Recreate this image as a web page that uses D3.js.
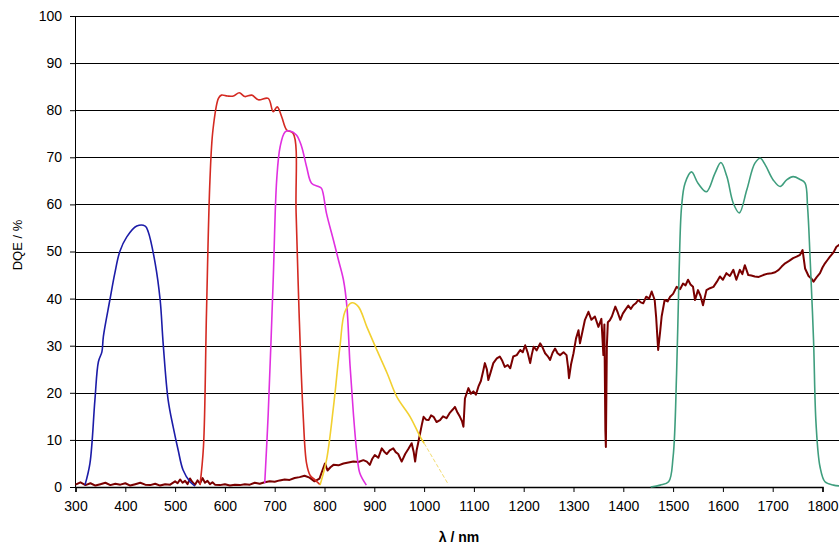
<!DOCTYPE html>
<html>
<head>
<meta charset="utf-8">
<script src="https://cdn.jsdelivr.net/npm/d3@7"></script>
<style>
  body { margin: 0; background: #fff; }
  svg { display: block; font-family: "Liberation Sans", Arial, sans-serif; }
</style>
</head>
<body>
<svg id="chart" width="839" height="544"></svg>
<script>
// tick labels
const xTicks = [300, 400, 500, 600, 700, 800, 900, 1000, 1100, 1200, 1300, 1400, 1500, 1600, 1700, 1800];
const yTicks = [0, 10, 20, 30, 40, 50, 60, 70, 80, 90, 100];

// blue filter curve
const blueX = [319, 329, 339, 346, 353, 356, 369, 379, 389, 403, 423, 440, 446, 460, 470, 476, 486, 496, 506, 516, 530, 540];
const blueY = [0.4, 5, 18.5, 26.6, 28.7, 32, 39.7, 45.4, 50, 53.1, 55.4, 55.4, 54.2, 47.5, 39.7, 30.5, 18.5, 12.8, 7.9, 3.6, 1.1, 0.2];

// red filter curve
const redX = [550, 557, 563, 570, 576, 587, 593, 605, 617, 629, 640, 654, 667, 687, 697, 705, 714, 724, 737, 743, 749, 757, 764, 771, 781, 791];
const redY = [0.4, 8.6, 36.9, 65.2, 75.8, 82.5, 83.2, 83.0, 83, 83.7, 82.9, 83.2, 82.2, 82.5, 79.7, 80.7, 78.6, 75.8, 75.1, 58.2, 36.9, 15.6, 5, 2.5, 1.5, 0.5];

// magenta filter curve
const magX = [680, 687, 697, 704, 711, 721, 731, 744, 754, 764, 774, 788, 794, 804, 818, 828, 838, 845, 851, 858, 865, 871, 884];
const magY = [0.8, 15.6, 44, 65.2, 72.3, 75.4, 75.6, 74.7, 72.3, 68, 64.5, 63.8, 63.4, 58.1, 52.4, 48.2, 44, 38.3, 26.3, 15.6, 7.2, 2.9, 0.4];

// yellow filter curve (solid part + dashed extrapolation)
const yelX = [791, 804, 818, 831, 841, 855, 868, 885, 905, 926, 945, 972, 992, 1000];
const yelY = [0.4, 5.7, 17, 29.8, 37.2, 39.1, 38.3, 34, 29.1, 24.1, 19.2, 14.9, 10.7, 9.3];
const yelDashX = [1000, 1025, 1049];
const yelDashY = [9.3, 4.8, 0.5];

// green filter curve
const greenX = [1455, 1474, 1491, 1500, 1507, 1512, 1517, 1524, 1537, 1550, 1567, 1584, 1596, 1608, 1621, 1633, 1648, 1664, 1675, 1685, 1701, 1715, 1728, 1741, 1755, 1765, 1770, 1775, 1782, 1787, 1795, 1805, 1822, 1840];
const greenY = [0, 0.4, 1.1, 6.4, 24.1, 45.4, 59.5, 64.5, 66.9, 64.5, 62.7, 66.6, 68.9, 65.9, 60.2, 58.2, 63.1, 68.7, 69.8, 68.4, 65.2, 63.8, 65.2, 65.9, 65.3, 64.5, 59.5, 48.9, 31.2, 13.5, 4.3, 1.1, 0.4, 0.2];

// detector DQE (dark red, measured)
const detX = [300, 310, 320, 330, 340, 350, 360, 370, 380, 390, 400, 410, 420, 430, 440, 450, 460, 470, 480, 490,
  500, 505, 510, 515, 520, 525, 530, 535, 540, 545, 550, 555, 560, 565, 570, 575, 580, 590, 600, 610,
  620, 630, 640, 650, 660, 670, 680, 690, 700, 710, 720, 730, 740, 750, 760, 770, 780, 790,
  801, 806, 812, 818, 828, 838, 848, 858, 868, 878, 885, 891, 896, 901, 908, 915, 920, 925, 931, 938,
  943, 948, 955, 962, 968, 975, 979, 982, 985, 988, 992, 996, 999, 1004, 1009, 1014, 1019, 1025, 1032, 1038,
  1045, 1052, 1058, 1062, 1067, 1072, 1076, 1079, 1082, 1089, 1094, 1099, 1104, 1109, 1114, 1119, 1122, 1126, 1129, 1134,
  1139, 1146, 1152, 1157, 1162, 1168, 1173, 1179, 1186, 1193, 1198, 1203, 1208, 1213, 1216, 1220, 1226, 1233, 1238, 1243,
  1248, 1253, 1258, 1263, 1268, 1273, 1280, 1286, 1289, 1291, 1295, 1300, 1305, 1310, 1313, 1318, 1323, 1330, 1336, 1343,
  1350, 1356, 1360, 1362, 1364, 1365, 1367, 1369, 1373, 1377, 1384, 1389, 1394, 1399, 1404, 1410, 1415, 1420, 1425, 1430,
  1435, 1440, 1446, 1452, 1457, 1463, 1466, 1470, 1474, 1477, 1483, 1489, 1494, 1500, 1507, 1514, 1520, 1525, 1530, 1535,
  1540, 1544, 1550, 1555, 1560, 1567, 1574, 1581, 1588, 1594, 1600, 1607, 1614, 1621, 1627, 1634, 1639, 1644, 1651, 1657,
  1664, 1672, 1681, 1690, 1698, 1705, 1712, 1718, 1725, 1733, 1741, 1748, 1755, 1760, 1765, 1772, 1778, 1782, 1788, 1795,
  1800, 1805, 1810, 1815, 1822, 1828, 1835];
const detY = [0.5, 1.0, 0.4, 0.8, 0.3, 0.6, 0.9, 0.4, 0.7, 0.5, 0.8, 0.3, 0.6, 0.9, 0.5, 0.4, 0.7, 0.3, 0.6, 0.5,
  1.2, 0.8, 1.6, 0.9, 1.3, 0.6, 1.8, 1.0, 0.5, 1.4, 0.7, 1.9, 0.9, 1.3, 0.6, 1.0, 0.5, 0.4, 0.6, 0.3,
  0.5, 0.4, 0.6, 0.5, 0.9, 0.7, 1.0, 1.2, 1.1, 1.4, 1.6, 1.5, 1.9, 2.1, 2.4, 2.0, 1.2, 1.8,
  5.0, 3.5, 4.2, 4.7, 4.6, 5.0, 5.2, 5.4, 5.3, 5.7, 5.4, 4.7, 6.0, 6.8, 6.2, 8.2, 7.5, 7.0, 7.8, 8.2,
  7.4, 7.0, 5.4, 7.0, 8.0, 9.3, 7.5, 5.4, 7.8, 9.3, 11.4, 13.5, 14.9, 14.3, 14.2, 15.2, 14.9, 13.8, 14.2, 15.0,
  14.6, 15.8, 16.5, 17.0, 15.8, 14.9, 14.0, 12.8, 18.8, 21.0, 19.8, 20.3, 19.6, 21.3, 22.5, 24.8, 26.3, 25.0, 22.7, 24.5,
  26.3, 27.3, 27.7, 26.8, 25.5, 25.9, 25.2, 27.7, 28.0, 29.1, 28.6, 30.1, 28.5, 26.3, 28.0, 29.8, 29.0, 30.5, 29.6, 28.4,
  27.8, 27.0, 28.5, 29.4, 28.4, 28.0, 28.6, 28.0, 25.5, 23.1, 26.0, 28.4, 31.5, 33.3, 30.5, 33.0, 35.5, 37.2, 35.5, 36.2,
  34.0, 35.7, 28.0, 34.5, 12.0, 8.5, 30.0, 35.0, 35.4, 36.2, 38.3, 37.0, 35.5, 36.8, 37.6, 38.5, 37.8, 38.6, 39.0, 39.7,
  39.2, 39.0, 40.4, 40.0, 41.5, 39.7, 36.0, 29.1, 33.0, 36.2, 39.7, 39.4, 40.4, 41.0, 42.5, 42.0, 43.2, 42.8, 44.0, 43.0,
  42.5, 39.7, 41.8, 40.6, 38.6, 41.8, 42.2, 42.5, 43.6, 44.7, 44.0, 45.4, 44.8, 46.1, 44.0, 46.1, 45.2, 47.1, 45.0, 44.9,
  44.7, 44.6, 45.0, 45.3, 45.4, 45.6, 46.1, 46.8, 47.5, 48.0, 48.6, 48.9, 49.3, 50.3, 46.4, 44.8, 44.2, 43.6, 44.5, 45.4,
  46.6, 47.5, 48.2, 48.9, 49.8, 51.0, 51.5];

const svg = d3.select("#chart");

const plotLeft = 75, plotTop = 16, plotBottom = 487, plotRight = 839;

const x = d3.scaleLinear().domain([300, 1800]).range([75.5, 822.5]);
const y = d3.scaleLinear().domain([0, 100]).range([plotBottom, plotTop]);

// clip for the plot area
svg.append("clipPath").attr("id", "plotClip")
  .append("rect")
  .attr("x", plotLeft).attr("y", plotTop - 2)
  .attr("width", plotRight - plotLeft).attr("height", plotBottom - plotTop + 3);

// horizontal gridlines
svg.append("g")
  .selectAll("line")
  .data(yTicks.filter(d => d > 0))
  .join("line")
  .attr("x1", plotLeft).attr("x2", plotRight)
  .attr("y1", d => Math.round(y(d)) + 0.5)
  .attr("y2", d => Math.round(y(d)) + 0.5)
  .style("stroke", "#000")
  .style("stroke-width", 1);

// y axis
const yAxis = svg.append("g")
  .attr("transform", `translate(${plotLeft},0)`)
  .call(d3.axisLeft(y).tickValues(yTicks).tickSize(5).tickPadding(8));
yAxis.select(".domain").attr("stroke", "#000");
yAxis.selectAll("text").style("font-size", "14px").style("fill", "#000");

// x axis
const xAxis = svg.append("g")
  .attr("transform", `translate(0,${plotBottom})`)
  .call(d3.axisBottom(x).tickValues(xTicks).tickSize(5).tickPadding(9).tickFormat(d3.format("d")));
xAxis.select(".domain").attr("stroke", "#000").attr("stroke-width", 1.5);
xAxis.selectAll("text").style("font-size", "14px").style("fill", "#000");

// axis titles
svg.append("text")
  .attr("x", 459).attr("y", 542)
  .attr("text-anchor", "middle")
  .style("font-size", "14px")
  .style("font-weight", "bold")
  .text("λ / nm");

svg.append("text")
  .attr("transform", "translate(22,245) rotate(-90)")
  .attr("text-anchor", "middle")
  .style("font-size", "13px")
  .text("DQE / %");

const plot = svg.append("g").attr("clip-path", "url(#plotClip)");

function drawCurve(xs, ys, color, width, curve, dash) {
  const pts = xs.map((v, i) => [v, ys[i]]);
  const line = d3.line()
    .x(d => x(d[0]))
    .y(d => y(d[1]))
    .curve(curve);
  plot.append("path")
    .datum(pts)
    .attr("d", line)
    .style("fill", "none")
    .style("stroke", color)
    .style("stroke-width", width)
    .style("stroke-linejoin", "round")
    .style("stroke-dasharray", dash || null);
}

const smooth = d3.curveCatmullRom.alpha(0.5);

drawCurve(detX, detY, "#7a0000", 2, d3.curveLinear);
drawCurve(blueX, blueY, "#1c1ca8", 1.6, smooth);
drawCurve(redX, redY, "#d42a22", 1.6, smooth);
drawCurve(magX, magY, "#e030e0", 1.6, smooth);
drawCurve(yelX, yelY, "#f2d030", 1.6, smooth);
drawCurve(yelDashX, yelDashY, "#f2dc70", 1, d3.curveLinear, "4,2");
drawCurve(greenX, greenY, "#3f9e7e", 1.6, smooth);
</script>
</body>
</html>
